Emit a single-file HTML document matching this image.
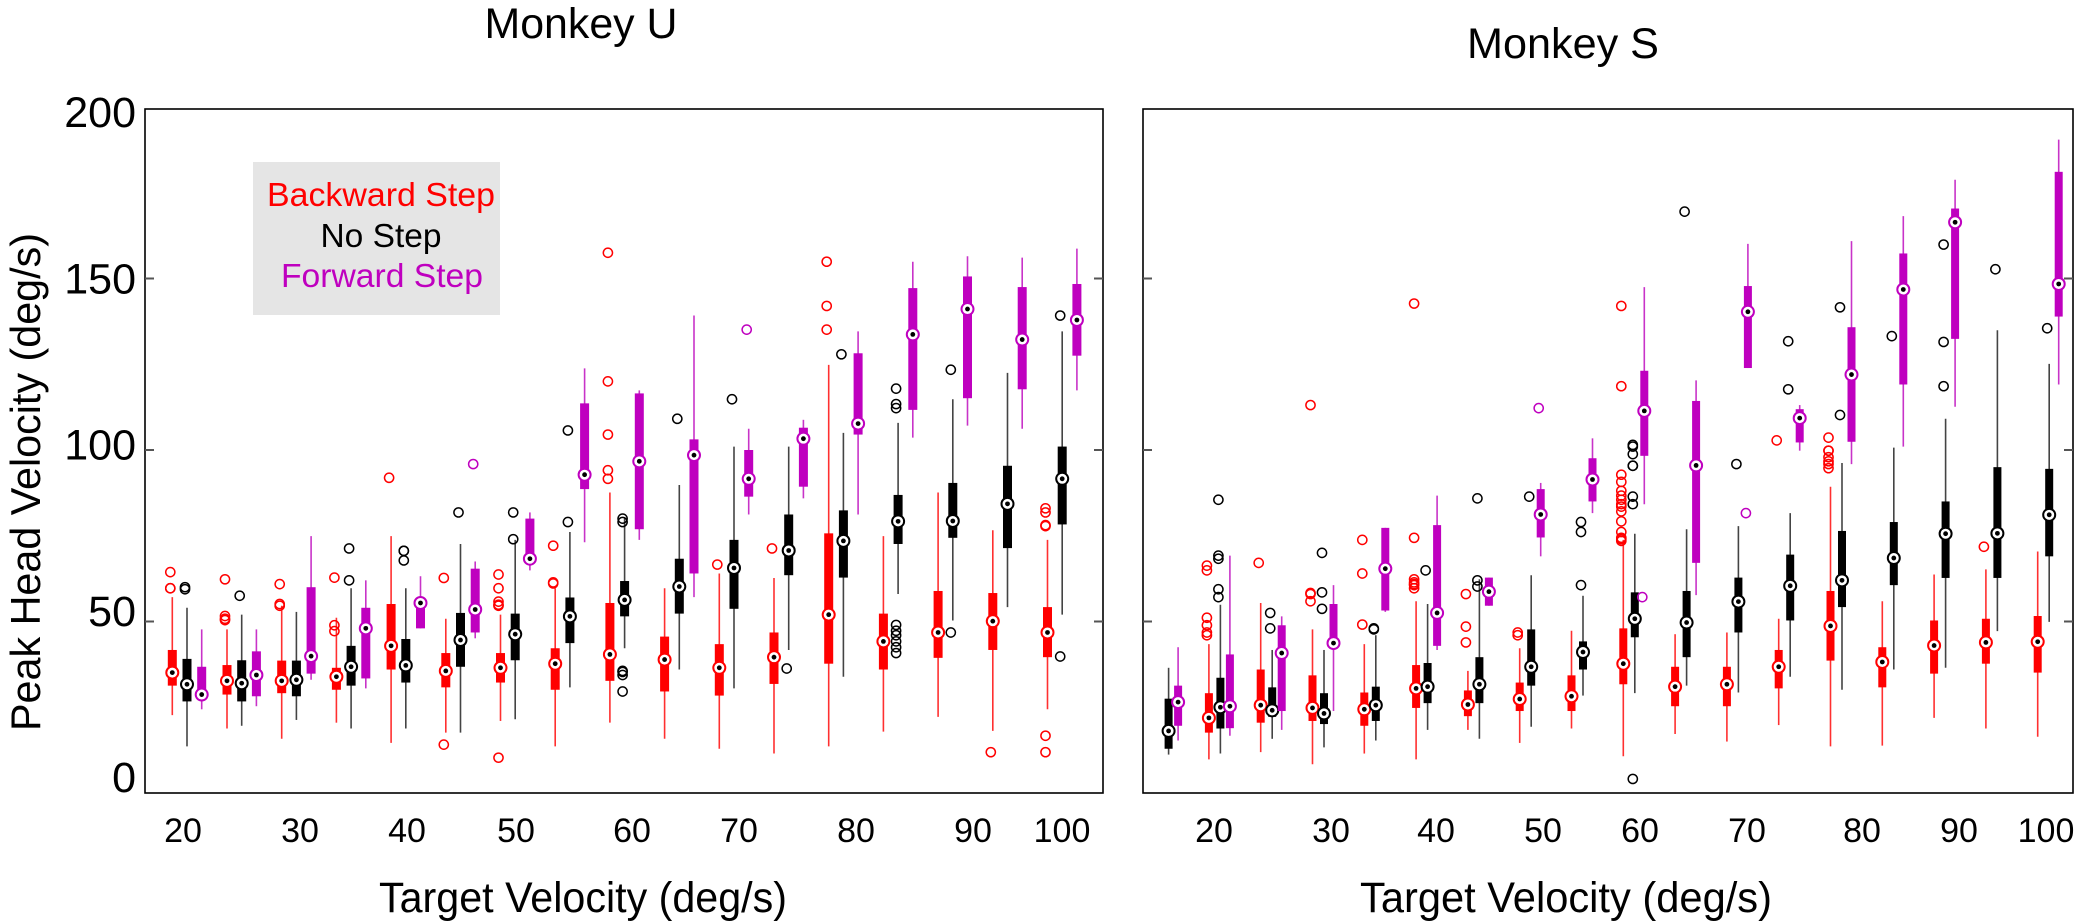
<!DOCTYPE html>
<html><head><meta charset="utf-8"><style>
html,body{margin:0;padding:0;background:#fff;}
svg{display:block;font-family:"Liberation Sans",Arial,sans-serif;}
</style></head><body>
<svg id="chart" width="2076" height="924" viewBox="0 0 2076 924" xmlns="http://www.w3.org/2000/svg">
<rect x="0" y="0" width="2076" height="924" fill="#fff"/>
<text x="581" y="38" font-size="43" text-anchor="middle" textLength="193" lengthAdjust="spacingAndGlyphs">Monkey U</text>
<text x="1563" y="58" font-size="43" text-anchor="middle" textLength="192" lengthAdjust="spacingAndGlyphs">Monkey S</text>
<text transform="translate(40,482) rotate(-90)" font-size="42" text-anchor="middle" textLength="498" lengthAdjust="spacingAndGlyphs">Peak Head Velocity (deg/s)</text>
<text x="583" y="912" font-size="43" text-anchor="middle" textLength="408" lengthAdjust="spacingAndGlyphs">Target Velocity (deg/s)</text>
<text x="1566" y="912" font-size="43" text-anchor="middle" textLength="412" lengthAdjust="spacingAndGlyphs">Target Velocity (deg/s)</text>
<g id="left"></g>
<g id="right"></g>
<g>
<rect x="253" y="162" width="247" height="153" fill="#e5e5e5"/>
<text x="381" y="206" font-size="33" fill="#ff0000" text-anchor="middle" textLength="228" lengthAdjust="spacingAndGlyphs">Backward Step</text>
<text x="381" y="247" font-size="33" fill="#000" text-anchor="middle" textLength="121" lengthAdjust="spacingAndGlyphs">No Step</text>
<text x="382" y="287" font-size="33" fill="#bf00bf" text-anchor="middle" textLength="202" lengthAdjust="spacingAndGlyphs">Forward Step</text>
</g>
</svg>
<script>
const uVel = [20,25,30,35,40,45,50,55,60,65,70,75,80,85,90,95,100];
const uRedStats = [[22.7,31.3,35.1,41.7,57.1],[18.8,28.7,32.7,37.3,47.7],[15.8,29.1,32.7,38.6,54.6],[20.5,30.1,33.9,36.5,51.1],[14.6,36,42.9,55.1,74.9],[17.6,30.8,35.6,40.8,50.8],[21,32.2,36.5,40.8,52],[13.6,30.1,37.7,42.2,59.7],[20.5,32.7,40.4,55.4,87.6],[15.8,29.6,38.9,45.6,59.7],[12.9,28.4,36.5,43.4,64],[11.5,31.8,39.6,46.8,62.7],[13.6,37.7,52,75.7,124.8],[17.9,36,44.2,52.3,74.9],[22.2,39.4,46.8,58.9,87.6],[18.1,41.7,50.1,58.3,76.6],[24.4,39.6,46.8,54.2,73.8]];
const uRedOut = [[59.7,59.7,64.4],[62.3,51.6,50.4,50.8],[60.9,54.6,55.1],[62.8,48.9,47.2],[91.9],[62.7,14.1],[63.7,59.7,55.8,54.6,54.9,10.3],[72.1,61.4,61.1],[157.5,120,104.5,94.1,91.6],[],[66.6],[71.3],[154.9,142,135.1],[],[],[11.9],[83,81.8,78.1,77.8,16.7,11.9]];
const uBlackStats = [[13.6,26.7,31.7,39.1,54],[19.6,26.7,32,38.7,52],[21.3,28.2,33,38.6,52.8],[18.8,31.3,36.8,42.9,59.7],[18.8,32.2,37.2,44.9,59.7],[17.6,36.8,44.6,52.5,72.6],[21.5,38.7,46.3,52.3,73.8],[30.8,43.7,51.5,57,76.1],[42.2,51.5,56.3,61.8,80.4],[36,52.3,60.2,68.3,89.8],[30.5,53.7,65.6,73.8,101],[41.7,63.5,70.7,81.2,101],[33.9,62.8,73.5,82.4,105],[58,72.6,79.2,86.9,107.9],[50.3,74.4,79.3,90.4,114.8],[54.2,71.4,84.3,95.4,122.5],[52,78.3,91.6,101,134.6]];
const uBlackOut = [[60,59.4],[57.5],[],[62,71.3],[70.6,70.6,67.8],[81.8],[81.8,74],[79,105.7],[79,80,34.4,35.3,35.6,29.6],[109.1],[114.8],[36.3],[127.9],[49,47.3,46,44.2,42.5,40.8,117.9,113.4,112.2],[123.4,46.8],[],[139.2,39.8]];
const uMagStats = [[24.4,27.4,28.7,36.8,47.7],[25.3,28.2,34.4,41.3,47.7],[33,34.8,39.9,60,74.9],[30.5,33.4,48,54,62],[48,48,55.4,56.6,63.2],[45.1,46.8,53.5,65.4,67.5],[64.9,67.1,68.3,80,81.8],[73.1,88.6,92.8,113.6,123.8],[73.8,76.9,96.7,116.5,117.4],[57.1,64,98.5,103.1,139.2],[81.2,86.4,91.6,100,106.2],[85.9,89.3,103.3,106.5,108.8],[81.2,104.5,107.7,128.2,134.6],[103.6,111.7,133.7,147.2,154.9],[107.1,115.1,141.1,150.6,156.5],[106.2,117.7,132.2,147.5,156.1],[117.4,127.5,137.9,148.4,158.7]];
const uMagOut = [[],[],[],[],[],[95.9],[],[],[],[],[135.1],[],[],[],[],[],[]];

const sVel = [15,20,25,30,35,40,45,50,55,60,65,70,75,80,85,90,95,100];
const sRedStats = [null,[9.8,17.6,21.9,29.1,43.4],[11.9,20.5,25.6,36,55.4],[8.4,21,24.8,34.3,47.7],[11.5,19.6,24.4,29.3,43.4],[9.8,24.8,30.5,37.3,55.9],[18.4,22.4,25.8,29.9,35.6],[14.6,23.9,27.4,32.2,42.2],[18.8,23.9,28.2,34.3,47.3],[10.7,31.7,37.7,48,73.8],[17.2,25.3,31,36.8,46.3],[15,25.3,31.7,36.8,46.8],[19.8,30.5,36.8,41.7,50.8],[13.6,38.6,48.7,58.9,89.3],[13.8,30.8,38.2,42.5,55.9],[21.9,34.8,43,50.3,63.7],[18.8,37.7,43.9,50.8,65.2],[16.4,35.1,44.1,51.6,70.4]];
const sRedOut = [[],[64.9,66.3,51.1,46.8,48.9,46],[67.1],[113.1,58.3,58,55.9],[73.8,64,49.1],[142.7,74.4,61.4,60.6,59.7,62.3,60.9],[58,48.5,43.9],[46.8,46],[],[142,118.6,92.8,90.7,88.1,86.7,85.5,84.2,83.5,82.1,79.2,76.1,74.4,73.5,74],[],[],[102.8],[103.6,99.8,99.8,97.9,96.7,95.9,94.7],[],[],[71.8],[]];
const sBlackStats = [[11.2,12.9,18.1,27.5,36.5],[11.5,18.8,25,33.6,54.9],[15.8,22.2,24.1,30.8,41.7],[13.3,20.1,23.2,29.1,41.7],[15.3,21,25.6,31,46],[18.4,26.2,31,37.9,55.1],[15.8,26.2,31.7,39.6,62.3],[19.3,31.3,36.8,47.7,63.5],[28.4,36,41.1,44.2,57.5],[29.1,45.4,50.8,58.5,75.6],[31.3,39.6,49.7,58.9,76.9],[29.3,46.8,55.8,62.8,77.8],[33.9,50.3,60.4,69.5,81.6],[30.1,54.2,62,76.4,96.2],[36,60.6,68.5,79,100.7],[36.5,62.7,75.6,85,109.1],[47.2,62.7,75.7,95,134.9],[49.9,69,81.1,94.5,125.1]];
const sBlackOut = [[],[85.5,68.3,69.2,59.4,57.1],[48,52.5],[70,58.5,53.7],[48,47.7],[64.9],[85.9,62,60.2],[86.4],[79,76.1,60.6],[101.5,101,98.8,95.4,95.4,86.4,84.2,4.1],[169.5],[95.9],[131.7,117.7],[141.6,110.2],[133.2],[118.6,131.5,159.9],[152.7],[135.5]];
const sMagStats = [[15.3,19.6,26.5,31.3,42.5],[16.7,18.9,25.3,40.4,69.2],[18.4,23.9,40.8,48.9,51.5],[23.9,42,43.7,55.1,60.6],[52.8,53.2,65.4,77.3,77.3],[41.7,42.9,52.5,78.1,86.7],[54.6,54.6,58.7,62.8,62.8],[69,74.5,81.2,88.6,90.4],[81.6,85,91.4,97.6,103.4],[84.2,98.3,111.4,123.1,147.5],[57.7,67.1,95.5,114.3,120.3],[123.9,123.9,140.3,147.8,160.1],[99.8,102.2,109.3,111.9,113.1],[95.9,102.4,122,135.8,160.9],[101,119.1,146.8,157.3,168.2],[112.6,132.4,166.4,170.4,178.8],null,[119.1,138.9,148.4,181.1,190.5]];
const sMagOut = [[],[],[],[],[],[],[],[112.2],[],[57.1],[],[81.6],[],[],[],[],[],[]];

const yTicks = [0,50,100,150,200];
const uXLabels = ["20","30","40","50","60","70","80","90","100"];
const sXLabels = ["20","30","40","50","60","70","80","90","100"];
const uXLabelPos = [183,300,407,516,632,739,856,973,1062];
const sXLabelPos = [1214,1331,1436,1543,1640,1747,1862,1959,2046];

const NS = "http://www.w3.org/2000/svg";
function yScale(v){ return 793 - v*3.43; }
function uX(v){ return 187 + (v-20)/5*54.7; }
function sX(v){ return 1168.6 + (v-15)/5*51.8; }
function mk(parent, tag, attrs){
  const e = document.createElementNS(NS, tag);
  for (const k in attrs) e.setAttribute(k, attrs[k]);
  parent.appendChild(e); return e;
}
const COL = {red:"#ff0000", black:"#000000", mag:"#bf00bf"};
const WH = {red:"#ff3030", black:"#444444", mag:"#c833c8"};

function drawPanel(g, x0, x1, vel, xf, series, bw){
  const frame = mk(g,"rect",{x:x0,y:109,width:x1-x0,height:684,fill:"none",stroke:"#000","stroke-width":1.6});
  
  
  yTicks.forEach(t=>{
    if (t===0||t===200) return;
    const a = mk(g,"line",{x1:x0,x2:x0+9,y1:yScale(t),y2:yScale(t),stroke:"#555","stroke-width":2});
    
    
    const b = mk(g,"line",{x1:x1-9,x2:x1,y1:yScale(t),y2:yScale(t),stroke:"#555","stroke-width":2});
    
    
  });
  series.forEach(s=>{
    vel.forEach((v,i)=>{
      const st = s.stats[i];
      const cx = xf(v) + s.off;
      if (st){
        const grp = mk(g,"g",{});
        
        
        mk(grp,"line",{x1:cx,x2:cx,y1:yScale(st[0]),y2:yScale(st[4]),stroke:WH[s.name],"stroke-width":1.6});
        mk(grp,"rect",{x:cx-bw/2,y:yScale(st[3]),width:bw,height:Math.max(1,yScale(st[1])-yScale(st[3])),fill:COL[s.name]});
        mk(grp,"circle",{cx:cx,cy:yScale(st[2]),r:6,fill:"#fff",stroke:COL[s.name],"stroke-width":2});
        mk(grp,"circle",{cx:cx,cy:yScale(st[2]),r:2.4,fill:"#000"});
      }
      (s.out[i]||[]).forEach(o=>{
        const c = mk(g,"circle",{cx:cx-2,cy:yScale(o),r:4.6,fill:"none",stroke:COL[s.name],"stroke-width":1.5});
        
        
      });
    });
  });
}

const left = document.getElementById("left");
drawPanel(left, 145, 1103, uVel, uX, [
  {name:"red", stats:uRedStats, out:uRedOut, off:-14.7},
  {name:"black", stats:uBlackStats, out:uBlackOut, off:0},
  {name:"mag", stats:uMagStats, out:uMagOut, off:14.7}], 9);
const right = document.getElementById("right");
drawPanel(right, 1143, 2073, sVel, sX, [
  {name:"red", stats:sRedStats, out:sRedOut, off:-11.5},
  {name:"black", stats:sBlackStats, out:sBlackOut, off:0},
  {name:"mag", stats:sMagStats, out:sMagOut, off:9.5}], 8);

yTicks.forEach((t,i)=>{
  const tx = mk(left,"text",{x:136,y:112+(4-i)*166.25+15,"font-size":43,"text-anchor":"end"});
  tx.textContent = String(t);
  
  
});
uXLabels.forEach((l,i)=>{
  const tx = mk(left,"text",{x:uXLabelPos[i],y:842,"font-size":34,"text-anchor":"middle"});
  tx.textContent = l;
  
  
});
sXLabels.forEach((l,i)=>{
  const tx = mk(right,"text",{x:sXLabelPos[i],y:842,"font-size":34,"text-anchor":"middle"});
  tx.textContent = l;
  
  
});
</script>
</body></html>
